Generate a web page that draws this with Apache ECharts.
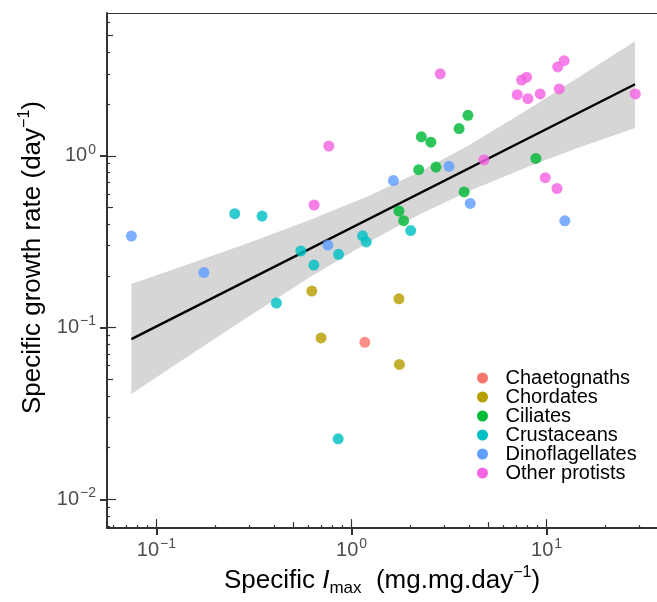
<!DOCTYPE html>
<html lang="en">
<head>
<meta charset="UTF-8">
<title>Specific growth rate vs specific Imax</title>
<script src="https://cdn.jsdelivr.net/npm/echarts@6/dist/echarts.min.js"></script>
<style>
  html, body { margin: 0; padding: 0; background: #fff; }
  #chart { width: 657px; height: 602px; }
</style>
</head>
<body>
<div id="chart"></div>
<script>
// axis ranges, both log10
var xMin = 0.0558, xMax = 36.8;
var yMin = 0.0068, yMax = 6.78;
var xMajor = [0.1, 1, 10];
var yMajor = [0.01, 0.1, 1];
var decades = [0.001, 0.01, 0.1, 1, 10];
var minorMult = [2, 3, 4, 6, 7, 8, 9];

var groups = ['Chaetognaths', 'Chordates', 'Ciliates', 'Crustaceans', 'Dinoflagellates', 'Other protists'];
var colors = ['#F8766D', '#B79F00', '#00BA38', '#00BFC4', '#619CFF', '#F564E3'];

// points (x = specific Imax, y = growth rate)
var chaetognathsX = [1.17];
var chaetognathsY = [0.082];
var chordatesX = [0.626, 0.698, 1.75, 1.76];
var chordatesY = [0.163, 0.087, 0.147, 0.061];
var ciliatesX = [3.95, 3.56, 2.28, 2.55, 2.21, 2.71, 8.81, 3.78, 1.75, 1.85];
var ciliatesY = [1.72, 1.44, 1.29, 1.20, 0.83, 0.86, 0.965, 0.616, 0.477, 0.419];
var crustaceansX = [0.252, 0.348, 0.55, 0.641, 1.14, 1.19, 0.858, 0.412, 0.854, 2.01];
var crustaceansY = [0.46, 0.446, 0.279, 0.231, 0.342, 0.315, 0.267, 0.139, 0.0225, 0.367];
var dinoX = [0.0744, 0.175, 0.756, 1.64, 3.16, 4.06, 12.4];
var dinoY = [0.341, 0.209, 0.302, 0.717, 0.868, 0.528, 0.418];
var protistsX = [0.765, 0.643, 2.85, 7.44, 7.9, 11.4, 12.3, 7.07, 8.02, 9.27, 11.6, 28.5, 4.77, 9.84, 11.3];
var protistsY = [1.14, 0.517, 3.0, 2.76, 2.87, 3.29, 3.58, 2.27, 2.15, 2.29, 2.45, 2.29, 0.948, 0.746, 0.645];

// fitted line and its confidence band
var fitX = [0.0744, 28.4];
var fitY = [0.0856, 2.61];
var bandX = [0.0744, 0.148, 0.301, 0.611, 1.24, 2.24, 4.04, 8.21, 14.8, 28.4];
var bandUpper = [0.179, 0.235, 0.313, 0.423, 0.588, 0.807, 1.16, 1.89, 2.89, 4.65];
var bandLower = [0.041, 0.069, 0.117, 0.196, 0.317, 0.456, 0.626, 0.872, 1.12, 1.45];

var font = 'Liberation Sans, Arial, sans-serif';

function pairs(xs, ys) {
    return xs.map(function (x, i) { return [x, ys[i]]; });
}

function ticksIn(mults, lo, hi) {
    var out = [];
    decades.forEach(function (d) {
        mults.forEach(function (m) {
            var v = +(m * d).toPrecision(3);
            if (v > lo && v < hi) out.push(v);
        });
    });
    return out;
}

function powLabel(v) {
    var e = Math.round(Math.log10(v));
    return '{b|10}{e|' + String(e).replace('-', '\u2212') + '}';
}

var labelRich = {
    b: { fontSize: 20, fontFamily: font, color: '#4d4d4d', lineHeight: 26 },
    e: { fontSize: 14, fontFamily: font, color: '#4d4d4d', lineHeight: 15, verticalAlign: 'top', padding: [0, 0, 0, 1] }
};
var nameRich = {
    t: { fontSize: 26, fontFamily: font, color: '#000', lineHeight: 32 },
    i: { fontSize: 26, fontFamily: font, color: '#000', lineHeight: 32, fontStyle: 'italic' },
    s: { fontSize: 17, fontFamily: font, color: '#000', lineHeight: 16, verticalAlign: 'bottom' },
    p: { fontSize: 16, fontFamily: font, color: '#000', lineHeight: 16, verticalAlign: 'top' }
};

// extra overlaid axes just to draw inside ticks (minor, the 5s, inner half of majors)
function tickAxis(min, max, values, len, pos) {
    return {
        type: 'log', min: min, max: max, position: pos,
        axisLine: { show: false },
        axisLabel: { show: false },
        splitLine: { show: false },
        axisTick: { show: true, inside: true, length: len, customValues: values,
            lineStyle: { color: '#333', width: 1.2 } }
    };
}

var chart = echarts.init(document.getElementById('chart'));

var scatterData = [
    pairs(chaetognathsX, chaetognathsY),
    pairs(chordatesX, chordatesY),
    pairs(ciliatesX, ciliatesY),
    pairs(crustaceansX, crustaceansY),
    pairs(dinoX, dinoY),
    pairs(protistsX, protistsY)
];

var series = [{
    type: 'custom',
    silent: true,
    z: 1,
    data: [[bandX[0], bandUpper[0]]],
    renderItem: function (params, api) {
        var pts = [];
        for (var i = 0; i < bandX.length; i++) pts.push(api.coord([bandX[i], bandUpper[i]]));
        for (var j = bandX.length - 1; j >= 0; j--) pts.push(api.coord([bandX[j], bandLower[j]]));
        return { type: 'polygon', shape: { points: pts }, style: { fill: '#d6d6d6' } };
    }
}, {
    type: 'line',
    z: 2,
    silent: true,
    showSymbol: false,
    data: pairs(fitX, fitY),
    lineStyle: { color: '#000', width: 2.4 }
}];

groups.forEach(function (g, k) {
    series.push({
        name: g,
        type: 'scatter',
        z: 3,
        symbolSize: 11,
        data: scatterData[k],
        itemStyle: { color: colors[k], opacity: 0.82 },
        emphasis: { disabled: true }
    });
});

var option = {
    animation: false,
    backgroundColor: '#fff',
    grid: { left: 107, right: 0, top: 13, bottom: 71, containLabel: false },
    legend: {
        data: groups,
        orient: 'vertical',
        left: 472,
        top: 363,
        icon: 'circle',
        itemWidth: 36,
        itemHeight: 11,
        itemGap: -1,
        itemStyle: { opacity: 1 },
        textStyle: { fontSize: 20, lineHeight: 19, color: '#000', fontFamily: font }
    },
    xAxis: [{
        type: 'log', min: xMin, max: xMax, position: 'bottom',
        name: '{t|Specific }{i|I}{s|max}{t|  (mg.mg.day}{p|\u22121}{t|)}',
        nameLocation: 'middle', nameGap: 32,
        nameTextStyle: { rich: nameRich },
        axisLine: { lineStyle: { color: '#333', width: 2 } },
        axisTick: { length: 7, customValues: xMajor, lineStyle: { color: '#333', width: 2 } },
        axisLabel: { customValues: xMajor, margin: 9, formatter: powLabel, rich: labelRich },
        splitLine: { show: false }
    }, {
        type: 'log', min: xMin, max: xMax, position: 'top',
        axisLine: { lineStyle: { color: '#333', width: 1 } },
        axisTick: { show: false }, axisLabel: { show: false }, splitLine: { show: false }
    },
        tickAxis(xMin, xMax, ticksIn(minorMult, xMin, xMax), 3, 'bottom'),
        tickAxis(xMin, xMax, ticksIn([5], xMin, xMax), 6, 'bottom'),
        tickAxis(xMin, xMax, xMajor, 9, 'bottom')
    ],
    yAxis: [{
        type: 'log', min: yMin, max: yMax, position: 'left',
        name: '{t|Specific growth rate (day}{p|\u22121}{t|)}',
        nameLocation: 'middle', nameGap: 57,
        nameTextStyle: { rich: nameRich, padding: [0, 0, 0, 26] },
        axisLine: { lineStyle: { color: '#333', width: 2 } },
        axisTick: { length: 7, customValues: yMajor, lineStyle: { color: '#333', width: 2 } },
        axisLabel: { customValues: yMajor, margin: 11, formatter: powLabel, rich: labelRich },
        splitLine: { show: false }
    },
        tickAxis(yMin, yMax, ticksIn(minorMult, yMin, yMax), 3, 'left'),
        tickAxis(yMin, yMax, ticksIn([5], yMin, yMax), 6, 'left'),
        tickAxis(yMin, yMax, yMajor, 9, 'left')
    ],
    series: series
};

chart.setOption(option);
</script>
</body>
</html>
